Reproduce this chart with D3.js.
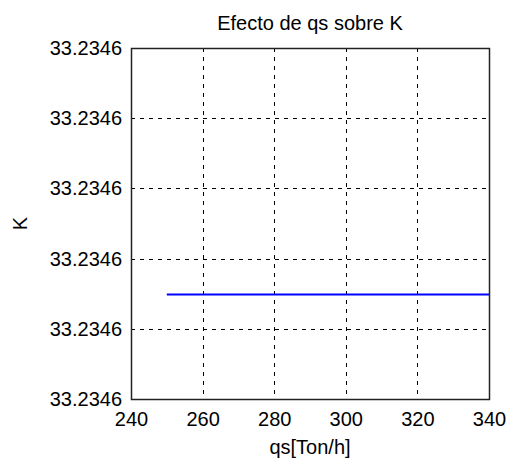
<!DOCTYPE html>
<html>
<head>
<meta charset="utf-8">
<script src="https://cdn.jsdelivr.net/npm/d3@7"></script>
<style>
  body { margin: 0; background: #fff; }
  svg { display: block; }
  text { font-family: "Liberation Sans", Arial, sans-serif; fill: #000; }
</style>
</head>
<body>
<div class="graph"></div>
<script>
// datos del gráfico
const qsValues = [250, 260, 270, 280, 290, 300, 310, 320, 330, 340];
const kValues = [33.234595, 33.234595, 33.234595, 33.234595, 33.234595, 33.234595, 33.234595, 33.234595, 33.234595, 33.234595];
const xTicks = [240, 260, 280, 300, 320, 340];
const yTicks = [33.23458, 33.23459, 33.2346, 33.23461, 33.23462, 33.23463];

const titleText = 'Efecto de qs sobre K';
const xLabelText = 'qs[Ton/h]';
const yLabelText = 'K';

const width = 508, height = 459;
const [mt, mb, mr, ml] = [48, 60, 19, 131];
const graphWidth = width - ml - mr;
const graphHeight = height - mt - mb;
const fontSize = 20;

const svg = d3.select('.graph').append('svg')
  .attr('width', width)
  .attr('height', height);

const graph = svg.append('g')
  .attr('transform', `translate(${ml}, ${mt})`);

const x = d3.scaleLinear()
  .domain([xTicks[0], xTicks[xTicks.length - 1]])
  .range([0, graphWidth]);

const y = d3.scaleLinear()
  .domain([yTicks[0], yTicks[yTicks.length - 1]])
  .range([graphHeight, 0]);

// rejilla punteada
graph.append('g')
  .selectAll('line')
  .data(xTicks)
  .join('line')
  .attr('x1', d => Math.round(x(d)) + 0.5)
  .attr('x2', d => Math.round(x(d)) + 0.5)
  .attr('y1', 0)
  .attr('y2', graphHeight)
  .attr('stroke', '#000')
  .attr('stroke-dasharray', '4,5');

graph.append('g')
  .selectAll('line')
  .data(yTicks)
  .join('line')
  .attr('y1', d => Math.round(y(d)) + 0.5)
  .attr('y2', d => Math.round(y(d)) + 0.5)
  .attr('x1', 0)
  .attr('x2', graphWidth)
  .attr('stroke', '#000')
  .attr('stroke-dasharray', '4,5');

// línea de datos
const line = d3.line()
  .x((d, i) => x(qsValues[i]))
  .y(d => Math.round(y(d)) + 0.5);

graph.append('path')
  .datum(kValues)
  .attr('d', line)
  .attr('fill', 'none')
  .attr('stroke', '#0000ff')
  .attr('stroke-width', 2);

// ejes
const xAxis = d3.axisBottom(x).tickValues(xTicks).tickSize(0).tickPadding(13);
const yAxis = d3.axisLeft(y).tickValues(yTicks).tickSize(0).tickPadding(9).tickFormat(d3.format('.4f'));

const xAxisG = graph.append('g')
  .attr('transform', `translate(0, ${graphHeight})`)
  .call(xAxis);
const yAxisG = graph.append('g').call(yAxis);

[xAxisG, yAxisG].forEach(g => {
  g.select('.domain').remove();
  g.selectAll('text')
    .attr('font-size', fontSize)
    .attr('font-family', '"Liberation Sans", Arial, sans-serif')
    .attr('fill', '#000');
});

// marco
graph.append('rect')
  .attr('x', 0.5)
  .attr('y', 0.5)
  .attr('width', graphWidth)
  .attr('height', graphHeight)
  .attr('fill', 'none')
  .attr('stroke', '#222')
  .attr('stroke-width', 1.5);

// títulos
svg.append('text')
  .attr('x', ml + graphWidth / 2)
  .attr('y', 30)
  .attr('text-anchor', 'middle')
  .attr('font-size', fontSize)
  .text(titleText);

svg.append('text')
  .attr('x', ml + graphWidth / 2)
  .attr('y', 454)
  .attr('text-anchor', 'middle')
  .attr('font-size', fontSize)
  .text(xLabelText);

svg.append('text')
  .attr('transform', `translate(27, ${mt + graphHeight / 2}) rotate(-90)`)
  .attr('text-anchor', 'middle')
  .attr('font-size', fontSize)
  .text(yLabelText);
</script>
</body>
</html>
